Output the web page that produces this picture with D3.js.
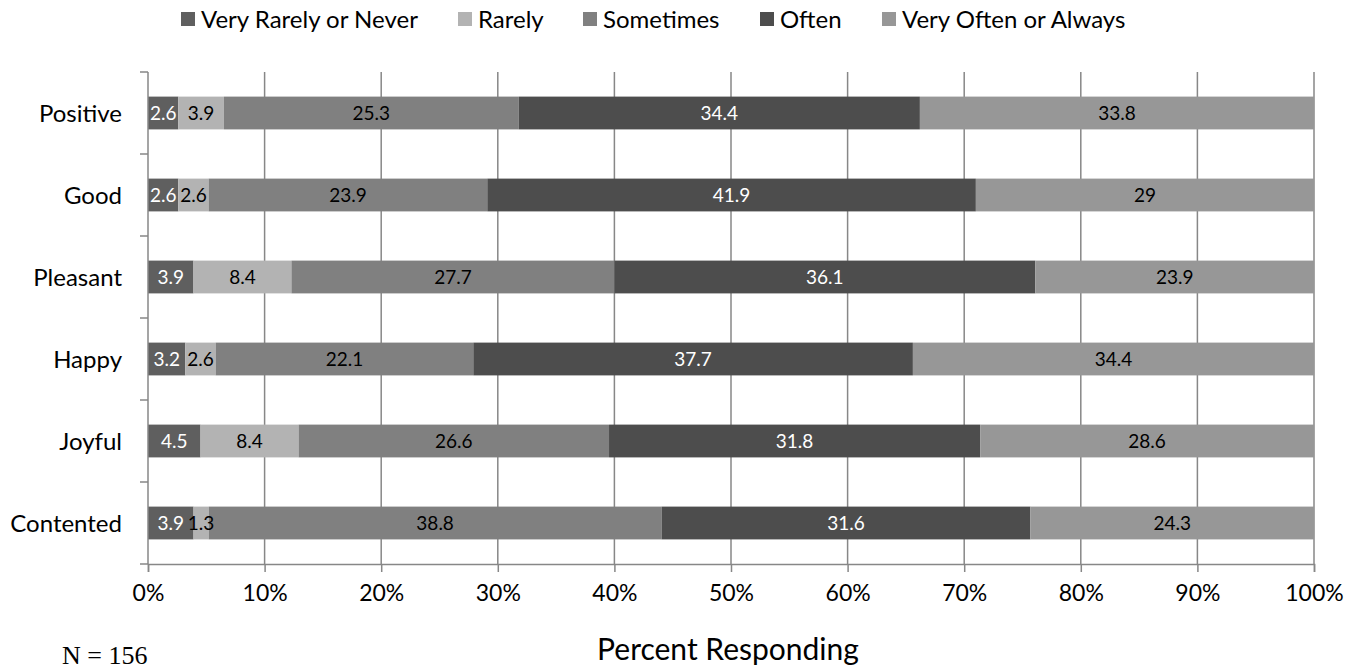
<!DOCTYPE html>
<html>
<head>
<meta charset="utf-8">
<script src="https://cdn.jsdelivr.net/npm/d3@7"></script>
<style>
  body { margin: 0; background: #fff; }
  text { font-family: Lato, "Open Sans", sans-serif; }
</style>
</head>
<body>
<script>
// Data

const categories = ["Positive", "Good", "Pleasant", "Happy", "Joyful", "Contented"];
const seriesNames = ["Very Rarely or Never", "Rarely", "Sometimes", "Often", "Very Often or Always"];
const veryRarely = [2.6, 2.6, 3.9, 3.2, 4.5, 3.9];
const rarely = [3.9, 2.6, 8.4, 2.6, 8.4, 1.3];
const sometimes = [25.3, 23.9, 27.7, 22.1, 26.6, 38.8];
const often = [34.4, 41.9, 36.1, 37.7, 31.8, 31.6];
const veryOften = [33.8, 29, 23.9, 34.4, 28.6, 24.3];
const tickValues = [0, 0.1, 0.2, 0.3, 0.4, 0.5, 0.6, 0.7, 0.8, 0.9, 1];

const colors = ["#5f5f5f", "#b3b3b3", "#808080", "#4d4d4d", "#979797"];
const labelColors = ["#fff", "#000", "#000", "#fff", "#000"];

// Build rows
const rows = categories.map((c, i) => {
  const vals = [veryRarely[i], rarely[i], sometimes[i], often[i], veryOften[i]];
  const total = d3.sum(vals);
  const row = { cat: c, total: total };
  seriesNames.forEach((s, j) => { row[s] = vals[j] / total; row[s + "_raw"] = vals[j]; });
  return row;
});

const stack = d3.stack().keys(seriesNames)(rows);

// Dimensions
const width = 1364, height = 669;
const plotLeft = 148, plotRight = 1314, plotTop = 72, plotBottom = 564;

const svg = d3.select("body").append("svg")
  .attr("width", width)
  .attr("height", height);

const x = d3.scaleLinear().domain([0, 1]).range([plotLeft, plotRight]);
const y = d3.scaleBand().domain(categories).range([plotTop, plotBottom]).paddingInner(0.6).paddingOuter(0.3);
const band = d3.scaleBand().domain(categories).range([plotTop, plotBottom]);

// gridlines
svg.append("g")
  .selectAll("line")
  .data(tickValues.slice(1))
  .enter().append("line")
  .attr("x1", d => x(d)).attr("x2", d => x(d))
  .attr("y1", plotTop).attr("y2", plotBottom)
  .attr("stroke", "#878787").attr("stroke-width", 1.5);

// bars
const layer = svg.append("g").selectAll("g")
  .data(stack)
  .enter().append("g")
  .attr("fill", (d, i) => colors[i]);

layer.selectAll("rect")
  .data(d => d)
  .enter().append("rect")
  .attr("x", d => x(d[0]))
  .attr("width", d => x(d[1]) - x(d[0]))
  .attr("y", d => y(d.data.cat))
  .attr("height", y.bandwidth());

// value labels
stack.forEach((s, i) => {
  svg.append("g").selectAll("text")
    .data(s)
    .enter().append("text")
    .attr("x", d => (x(d[0]) + x(d[1])) / 2)
    .attr("y", d => y(d.data.cat) + y.bandwidth() / 2)
    .attr("dy", "0.36em")
    .attr("text-anchor", "middle")
    .attr("font-size", 19)
    .attr("fill", labelColors[i])
    .text(d => d.data[s.key + "_raw"]);
});

// left axis
const yAxis = svg.append("g").attr("transform", "translate(" + plotLeft + ",0)");
yAxis.append("line")
  .attr("x1", 0).attr("x2", 0).attr("y1", plotTop).attr("y2", plotBottom)
  .attr("stroke", "#878787").attr("stroke-width", 1.5);
yAxis.selectAll("line.tk")
  .data(categories.map(c => band(c)).concat([plotBottom]))
  .enter().append("line").attr("class", "tk")
  .attr("x1", -8).attr("x2", 0)
  .attr("y1", d => d).attr("y2", d => d)
  .attr("stroke", "#878787").attr("stroke-width", 1.5);
yAxis.selectAll("text")
  .data(categories)
  .enter().append("text")
  .attr("x", -26)
  .attr("y", d => band(d) + band.bandwidth() / 2)
  .attr("dy", "0.36em")
  .attr("text-anchor", "end")
  .attr("font-size", 24)
  .attr("fill", "#000")
  .text(d => d);

// bottom axis
const xAxis = svg.append("g").attr("transform", "translate(0," + plotBottom + ")")
  .call(d3.axisBottom(x).tickValues(tickValues).tickFormat(d3.format(".0%")).tickSize(8).tickPadding(13));
xAxis.select(".domain").attr("stroke", "#878787").attr("stroke-width", 1.5);
xAxis.selectAll(".tick line").attr("stroke", "#878787").attr("stroke-width", 1.5);
xAxis.selectAll(".tick text").attr("font-size", 23).attr("fill", "#000").attr("font-family", "Lato, 'Open Sans', sans-serif");

// axis title
svg.append("text")
  .attr("x", 728).attr("y", 660)
  .attr("text-anchor", "middle")
  .attr("font-size", 30)
  .text("Percent Responding");

svg.append("text")
  .attr("x", 62).attr("y", 664)
  .attr("font-size", 26)
  .style("font-family", "'Liberation Serif', serif")
  .text("N = 156");

// legend
const legendX = [181, 458, 583, 760, 882];
const legend = svg.append("g").selectAll("g")
  .data(seriesNames)
  .enter().append("g")
  .attr("transform", (d, i) => "translate(" + legendX[i] + ",0)");
legend.append("rect")
  .attr("y", 12).attr("width", 14).attr("height", 14)
  .attr("fill", (d, i) => colors[i]);
legend.append("text")
  .attr("x", 20).attr("y", 19).attr("dy", "0.36em")
  .attr("font-size", 24)
  .text(d => d);
</script>
</body>
</html>
